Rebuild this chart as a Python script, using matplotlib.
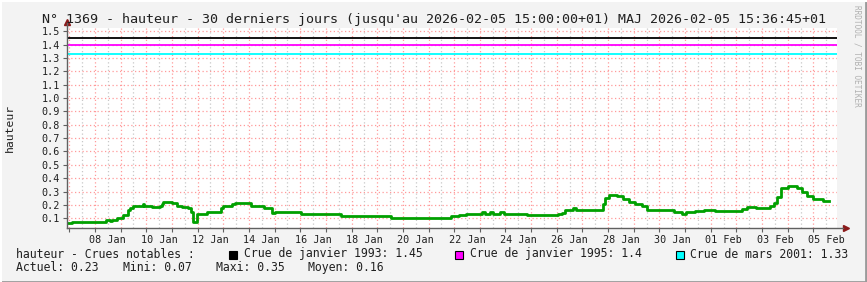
import matplotlib.pyplot as plt
from matplotlib.lines import Line2D
from matplotlib.patches import Rectangle
import numpy as np

# time in days since 2026-01-07 00:00 (local), water level in m
t_days = [-0.10, 0.09, 1.43, 1.59, 1.65, 1.85, 2.10, 2.27, 2.37, 2.49, 2.86, 2.91,
          3.21, 3.53, 3.60, 3.66, 3.99, 4.19, 4.38, 4.64, 4.73, 4.83, 4.99, 5.35,
          5.90, 6.00, 6.33, 6.46, 7.07, 7.60, 7.89, 8.02, 9.02, 10.23, 10.35, 10.58,
          12.53, 14.86, 15.19, 15.46, 16.07, 16.20, 16.40, 16.52, 16.78, 16.94, 17.85,
          19.06, 19.19, 19.32, 19.62, 19.75, 20.68, 20.79, 20.88, 21.05, 21.36, 21.59,
          21.82, 22.05, 22.31, 22.53, 23.09, 23.58, 23.87, 24.03, 24.38, 24.73, 25.16,
          26.20, 26.40, 26.76, 27.31, 27.46, 27.59, 27.72, 28.02, 28.35, 28.54, 28.74,
          28.97, 29.36, 29.62]
hauteur = [0.067, 0.075, 0.085, 0.08, 0.09, 0.10, 0.125, 0.16, 0.18, 0.19, 0.205, 0.19,
           0.185, 0.19, 0.21, 0.225, 0.215, 0.195, 0.185, 0.175, 0.15, 0.075, 0.13, 0.15,
           0.175, 0.19, 0.205, 0.215, 0.195, 0.18, 0.14, 0.15, 0.135, 0.13, 0.135, 0.12,
           0.105, 0.12, 0.125, 0.135, 0.15, 0.135, 0.15, 0.135, 0.15, 0.135, 0.125,
           0.13, 0.14, 0.16, 0.175, 0.16, 0.165, 0.21, 0.255, 0.275, 0.265, 0.245,
           0.225, 0.205, 0.195, 0.165, 0.16, 0.15, 0.13, 0.15, 0.155, 0.165, 0.155,
           0.17, 0.185, 0.18, 0.19, 0.215, 0.26, 0.33, 0.345, 0.325, 0.30, 0.265,
           0.245, 0.23, 0.23]

crues_labels = ['Crue de janvier 1993: 1.45', 'Crue de janvier 1995: 1.4', 'Crue de mars 2001: 1.33']
crues_values = [1.45, 1.4, 1.33]
crues_colors = ['#000000', '#ff00ff', '#00ffff']

day_labels = ['08 Jan', '10 Jan', '12 Jan', '14 Jan', '16 Jan', '18 Jan', '20 Jan', '22 Jan',
              '24 Jan', '26 Jan', '28 Jan', '30 Jan', '01 Feb', '03 Feb', '05 Feb']
day_label_pos = [1.5 + 2 * i for i in range(len(day_labels))]

title = "N° 1369 - hauteur - 30 derniers jours (jusqu'au 2026-02-05 15:00:00+01) MAJ 2026-02-05 15:36:45+01"
stats = ['Actuel: 0.23', 'Mini: 0.07', 'Maxi: 0.35', 'Moyen: 0.16']

plt.rcParams['font.family'] = 'DejaVu Sans Mono'
W, H = 867, 282
fig = plt.figure(figsize=(W / 100, H / 100), dpi=100, facecolor='#f3f3f3')
ax = fig.add_axes([67 / W, 1 - 228 / H, 770 / W, 200 / H])
ax.set_facecolor('white')
ax.set_xlim(-0.09, 29.92)
ax.set_ylim(0.027, 1.525)
for s in ax.spines.values():
    s.set_visible(False)

# grid
gray = '#c8c8c8'
red = '#ff9a9a'
for d in np.arange(0.5, 30, 1.0):
    ax.axvline(d, color=gray, lw=0.9, ls=(0, (1, 2)), zorder=0)
for d in np.arange(0, 30, 1.0):
    ax.axvline(d, color=red, lw=0.9, ls=(0, (1, 2)), zorder=0)
yt = np.round(np.arange(0.1, 1.51, 0.1), 1)
for y in yt:
    ax.axhline(y, color=red, lw=0.9, ls=(0, (1, 2)), zorder=0)

# flood reference lines
for v, c in zip(crues_values, crues_colors):
    ax.axhline(v, color=c, lw=1.3, zorder=2)

ax.plot(t_days, hauteur, color='#00a000', lw=2.0, drawstyle='steps-post', zorder=3)

# axes with arrows
axc = '#606060'
ax.plot([0, 0], [0, 1.025], color=axc, lw=1, transform=ax.transAxes, clip_on=False, zorder=4)
ax.plot([0, 1.008], [0, 0], color=axc, lw=1, transform=ax.transAxes, clip_on=False, zorder=4)
ax.plot([0], [1.03], marker='^', color='#8b1a1a', ms=5, transform=ax.transAxes, clip_on=False)
ax.plot([1.012], [0], marker='>', color='#8b1a1a', ms=5, transform=ax.transAxes, clip_on=False)

ax.set_yticks(yt, [f'{v:.1f}' for v in yt])
ax.set_xticks(np.arange(0, 30, 1.0), [''] * 30)
ax.set_xticks(day_label_pos, day_labels, minor=True)
ax.tick_params(axis='both', which='major', direction='out', length=3, color=axc,
               labelsize=7.3, labelcolor='#202020', pad=2)
ax.tick_params(axis='x', which='minor', length=0, labelsize=7.3, labelcolor='#202020', pad=5)

fig.text(433.5 / W, 1 - 19 / H, title, ha='center', va='center', fontsize=9.6, color='#202020')
fig.text(10 / W, 1 - 128 / H, 'hauteur', rotation=90, ha='center', va='center', fontsize=8.2, color='#202020')
fig.text(857 / W, 1 - 5 / H, 'RRDTOOL / TOBI OETIKER', rotation=270, ha='center', va='top',
         fontsize=5.6, color='#b0b0b0')

# legend
fs = 8.3
fig.text(16 / W, 1 - 254 / H, 'hauteur - Crues notables :', va='center', fontsize=fs, color='#202020')
for lab, c, xb in zip(crues_labels, crues_colors, [229, 455, 676]):
    fig.patches.append(Rectangle((xb / W, 1 - 258.5 / H), 8 / W, 8 / H, facecolor=c,
                                 edgecolor='black', lw=0.8, transform=fig.transFigure))
    fig.text((xb + 14.5) / W, 1 - 254 / H, lab, va='center', fontsize=fs, color='#202020')
for s, xs in zip(stats, [16, 123, 216, 308]):
    fig.text(xs / W, 1 - 267.5 / H, s, va='center', fontsize=fs, color='#202020')

# 3D frame
fig.add_artist(Line2D([0, 1], [0.5 / H, 0.5 / H], color='#9a9a9a', lw=2, transform=fig.transFigure))
fig.add_artist(Line2D([1 - 1 / W, 1 - 1 / W], [0, 1], color='#9a9a9a', lw=2, transform=fig.transFigure))
fig.add_artist(Line2D([0, 1], [1 - 0.5 / H, 1 - 0.5 / H], color='#ffffff', lw=1.5, transform=fig.transFigure))
fig.add_artist(Line2D([0.5 / W, 0.5 / W], [0, 1], color='#ffffff', lw=1.5, transform=fig.transFigure))

fig.savefig('out.png', dpi=100, facecolor=fig.get_facecolor())
